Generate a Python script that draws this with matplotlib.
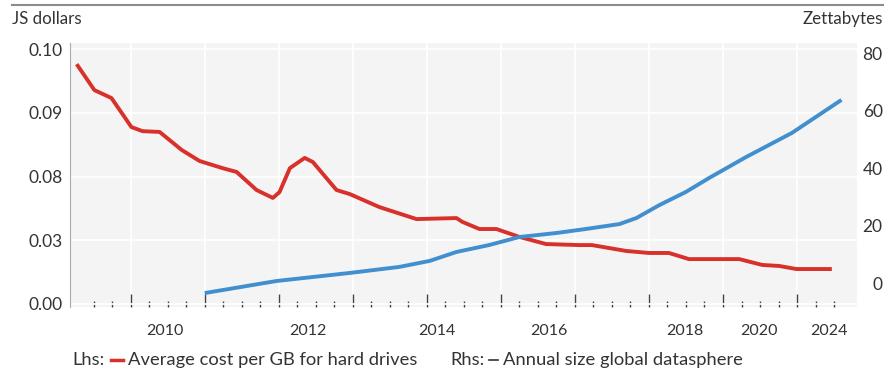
import matplotlib.pyplot as plt
from matplotlib.lines import Line2D

# hard drive cost, US dollars per GB (left axis)
cost_years = [2009.27, 2009.51, 2009.74, 2010.01, 2010.16, 2010.39, 2010.69, 2010.93,
              2011.24, 2011.43, 2011.70, 2011.92, 2012.01, 2012.15, 2012.35, 2012.46,
              2012.78, 2012.96, 2013.36, 2013.86, 2014.40, 2014.48, 2014.71, 2014.94,
              2015.25, 2015.61, 2016.06, 2016.23, 2016.69, 2017.00, 2017.27, 2017.54,
              2018.22, 2018.53, 2018.76, 2018.99, 2019.47]
cost_per_gb = [0.0941, 0.0839, 0.0808, 0.0694, 0.0678, 0.0675, 0.0604, 0.0561,
               0.0533, 0.0518, 0.0447, 0.0416, 0.0439, 0.0533, 0.0573, 0.0557,
               0.0447, 0.0431, 0.0380, 0.0333, 0.0337, 0.0322, 0.0294, 0.0294,
               0.0263, 0.0235, 0.0231, 0.0231, 0.0208, 0.0200, 0.0200, 0.0176,
               0.0176, 0.0153, 0.0149, 0.0137, 0.0137]

# global datasphere, zettabytes (right axis)
data_years = [2011.00, 2011.97, 2012.96, 2013.63, 2014.04, 2014.40, 2014.84, 2015.25,
              2015.75, 2016.15, 2016.60, 2016.83, 2017.14, 2017.50, 2017.81, 2018.31,
              2018.93, 2019.60]
datasphere = [-3.5, 0.7, 3.5, 5.6, 7.7, 10.8, 13.2, 16.0,
              17.4, 18.8, 20.5, 22.6, 27.1, 31.7, 36.5, 43.8,
              52.2, 63.7]

left_ticks = [0, 0.025, 0.05, 0.075, 0.1]
left_labels = ['0.00', '0.03', '0.08', '0.09', '0.10']
right_ticks = [0, 20, 40, 60, 80]
year_label_pos = [2010.46, 2012.39, 2014.14, 2015.65, 2017.49, 2018.49, 2019.43]
year_labels = ['2010', '2012', '2014', '2016', '2018', '2020', '2024']

plt.rcParams['font.family'] = ['Lato', 'DejaVu Sans']
txt = '#333333'
red = '#d8312b'
blue = '#428fcf'

W, H = 885, 381
fig = plt.figure(figsize=(W / 100, H / 100), dpi=100)
ax = fig.add_axes([70 / W, 1 - 307 / H, (857 - 70) / W, (307 - 43) / H])
ax.set_facecolor('#f4f4f4')
ax.set_xlim(2009.18, 2019.81)
ax.set_ylim(-0.0012, 0.1024)

for s in ['top', 'right', 'bottom']:
    ax.spines[s].set_visible(False)
ax.spines['left'].set_color('#aaaaaa')
ax.spines['left'].set_linewidth(0.8)

ax.set_yticks(left_ticks, left_labels)
ax.tick_params(axis='y', length=0, pad=5, labelsize=12.5, labelcolor=txt)
ax.set_xticks(range(2010, 2020))
ax.set_xticks([y + q for y in range(2009, 2020) for q in (0.25, 0.5, 0.75)
               if 2009.4 < y + q < 2019.6], minor=True)
ax.tick_params(axis='x', which='major', direction='in', length=9.5, width=1.0,
               color='#444444', labelbottom=False)
ax.tick_params(axis='x', which='minor', direction='in', length=4.5, width=1.0,
               color='#444444')
ax.grid(True, color='white', linewidth=1.3)
ax.set_axisbelow(True)

ax.plot(cost_years, cost_per_gb, color=red, linewidth=2.8,
        solid_capstyle='butt', solid_joinstyle='round')

sec = ax.secondary_xaxis('bottom')
sec.set_xticks(year_label_pos, year_labels)
sec.tick_params(length=0, pad=12, labelsize=11.5, labelcolor=txt)
sec.spines['bottom'].set_visible(False)

ax2 = ax.twinx()
ax2.set_ylim(-8.35, 83.5)
ax2.set_yticks(right_ticks)
for s in ax2.spines.values():
    s.set_visible(False)
ax2.tick_params(axis='y', length=0, pad=18.5, labelsize=12.5, labelcolor=txt)
ax2.plot(data_years, datasphere, color=blue, linewidth=2.8,
         solid_capstyle='butt', solid_joinstyle='round')

fig.add_artist(Line2D([12 / W, 883 / W], [1 - 5 / H, 1 - 5 / H], color='#8c8c8c', linewidth=1.5))
fig.text(12 / W, 1 - 19 / H, 'JS dollars', fontsize=12.2, color=txt, va='center', ha='left')
fig.text(883 / W, 1 - 19 / H, 'Zettabytes', fontsize=12.2, color=txt, va='center', ha='right')

ly = 1 - 360 / H
fs = 13.2
fig.text(72 / W, ly, 'Lhs:', fontsize=fs, color=txt, va='center')
fig.add_artist(Line2D([111 / W, 123 / W], [ly, ly], color=red, linewidth=2.5))
fig.text(128 / W, ly, 'Average cost per GB for hard drives', fontsize=fs, color=txt, va='center')
fig.text(450 / W, ly, 'Rhs:', fontsize=fs, color=txt, va='center')
fig.add_artist(Line2D([489 / W, 498 / W], [ly, ly], color=txt, linewidth=1.2))
fig.text(503 / W, ly, 'Annual size global datasphere', fontsize=fs, color=txt, va='center')

fig.canvas.draw()
for lab in ax2.get_yticklabels():
    lab.set_horizontalalignment('right')

fig.savefig('out.png', dpi=100)
